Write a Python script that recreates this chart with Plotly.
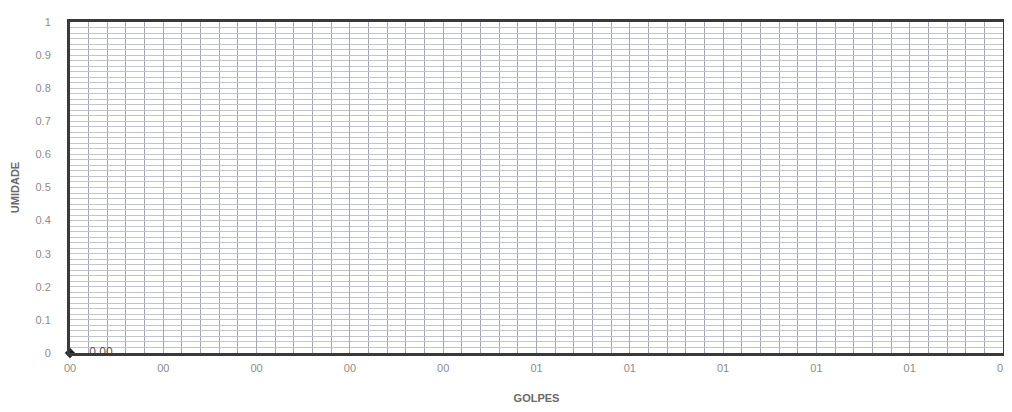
import plotly.graph_objects as go

# Data
golpes = [0]
umidade = [0]
point_labels = ["0.00"]

x_tick_vals = [0, 1, 2, 3, 4, 5, 6, 7, 8, 9, 10]
x_tick_text = ["00", "00", "00", "00", "00", "01", "01", "01", "01", "01", "01"]
y_tick_vals = [0, 0.1, 0.2, 0.3, 0.4, 0.5, 0.6, 0.7, 0.8, 0.9, 1]
y_tick_text = ["0", "0.1", "0.2", "0.3", "0.4", "0.5", "0.6", "0.7", "0.8", "0.9", "1"]

FONT = "Liberation Sans, Arial, sans-serif"
GRID = "#a4a6b2"
MINOR = "#c2c4cc"
AXIS = "#3a3a3a"
LABEL = "#8c8c8c"

fig = go.Figure()
fig.add_trace(go.Scatter(
    x=golpes,
    y=umidade,
    mode="markers+text",
    text=point_labels,
    texttemplate="\u00a0\u00a0\u00a0\u00a0%{text}",
    textposition="middle right",
    textfont=dict(size=12, color="#555555", family=FONT),
    marker=dict(symbol="diamond", size=8, color="#222222"),
    cliponaxis=False,
    showlegend=False,
))

fig.update_xaxes(
    range=[0, 10],
    tickvals=x_tick_vals,
    ticktext=x_tick_text,
    showgrid=True,
    gridcolor=GRID,
    gridwidth=1,
    minor=dict(dtick=0.2, showgrid=True, gridcolor=GRID, gridwidth=1),
    showline=True,
    linecolor=AXIS,
    linewidth=3,
    mirror=True,
    zeroline=False,
    ticks="",
    automargin=False,
    ticklabelstandoff=3,
    tickfont=dict(size=11, color=LABEL, family=FONT),
    title=dict(text="<b>GOLPES</b>", font=dict(size=11, color="#6a6a6a", family=FONT), standoff=22),
)
fig.update_yaxes(
    range=[0, 1],
    tickvals=y_tick_vals,
    ticktext=y_tick_text,
    showgrid=True,
    gridcolor=MINOR,
    gridwidth=1,
    minor=dict(dtick=1 / 60, showgrid=True, gridcolor=MINOR, gridwidth=1),
    showline=True,
    linecolor=AXIS,
    linewidth=3,
    mirror=True,
    zeroline=False,
    ticks="",
    automargin=False,
    ticklabelstandoff=14,
    tickfont=dict(size=11, color=LABEL, family=FONT),
    title=dict(text="<b>UMIDADE</b>", font=dict(size=11, color="#6a6a6a", family=FONT), standoff=14),
)

fig.update_layout(
    width=1004,
    height=406,
    margin=dict(l=62, r=9, t=14, b=61),
    paper_bgcolor="white",
    plot_bgcolor="white",
)

fig.write_html("out.html")
